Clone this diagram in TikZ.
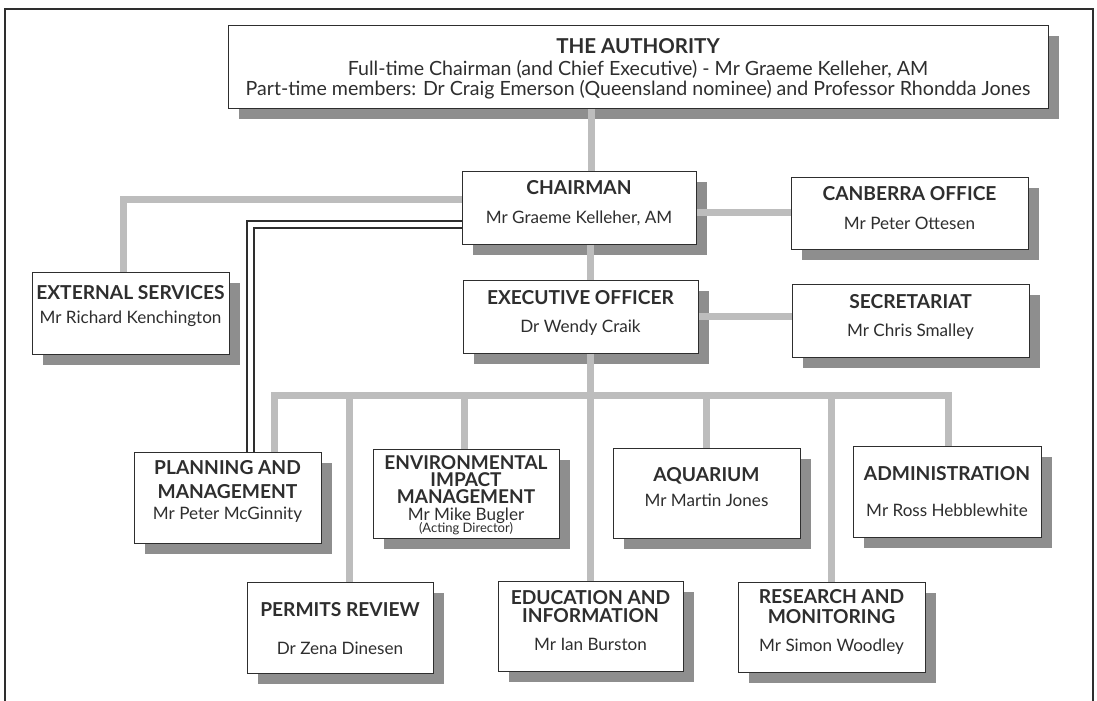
\documentclass[tikz,border=0pt]{standalone}
\usepackage{fontspec}
\setmainfont{Lato}
\usetikzlibrary{shadows}
\definecolor{conncol}{HTML}{BDBDBD}
\definecolor{shadcol}{HTML}{8E8E8E}
\definecolor{inkcol}{HTML}{2E2E2E}
\begin{document}
\begin{tikzpicture}[x=1pt,y=-1pt,
  box/.style={draw=inkcol, line width=0.9pt, fill=white, inner sep=0pt, anchor=north west,
    drop shadow={shadow xshift=11pt, shadow yshift=-11pt, fill=shadcol, opacity=1}},
  conn/.style={draw=conncol, line width=7pt},
  wire/.style={draw=inkcol, line width=1.1pt},
  ttl/.style={text=inkcol, font=\bfseries\fontsize{19.2}{21}\selectfont, inner sep=0pt, anchor=base},
  nm/.style={text=inkcol, font=\fontsize{17.1}{19}\selectfont, inner sep=0pt, anchor=base},
  bigttl/.style={text=inkcol, font=\bfseries\fontsize{20.5}{24}\selectfont, inner sep=0pt, anchor=base},
  authln/.style={text=inkcol, font=\fontsize{19.6}{21}\selectfont, inner sep=0pt, anchor=base},
  small/.style={text=inkcol, font=\fontsize{13}{14}\selectfont, inner sep=0pt, anchor=base},
  tightttl/.style={text=inkcol, font=\bfseries\fontsize{19}{17}\selectfont, inner sep=0pt, align=center},
]
\useasboundingbox (0,0) rectangle (1097,701);
% outer frame
\draw[draw=inkcol, line width=1.1pt] (5,701) -- (5,9) -- (1093,9) -- (1093,701);

% boxes
\node[box, minimum width=820pt, minimum height=83pt] (auth) at (228,25) {};
\node[box, minimum width=234pt, minimum height=73pt] (chair) at (462,171) {};
\node[box, minimum width=237pt, minimum height=72pt] (canb) at (791,177) {};
\node[box, minimum width=235pt, minimum height=73pt] (exec) at (463,280) {};
\node[box, minimum width=237pt, minimum height=73pt] (secr) at (792,284) {};
\node[box, minimum width=197pt, minimum height=82pt] (ext) at (32,272) {};
\node[box, minimum width=187pt, minimum height=91pt] (plan) at (134,452) {};
\node[box, minimum width=186pt, minimum height=89pt] (env) at (373,449) {};
\node[box, minimum width=187pt, minimum height=90pt] (aqua) at (613,448) {};
\node[box, minimum width=188pt, minimum height=91pt] (admin) at (853,446) {};
\node[box, minimum width=186pt, minimum height=91pt] (perm) at (247,582) {};
\node[box, minimum width=185pt, minimum height=90pt] (edu) at (498,581) {};
\node[box, minimum width=187pt, minimum height=90pt] (res) at (738,582) {};

% texts
\node[bigttl] (auth-t) at (638,53) {THE AUTHORITY};
\node[authln] (auth-a) at (638,75.5) {Full-time Chairman (and Chief Executive) - Mr Graeme Kelleher, AM};
\node[authln] (auth-b) at (638,95.5) {Part-time members: Dr Craig Emerson (Queensland nominee) and Professor Rhondda Jones};

\node[ttl] (chair-t) at (579,194.5) {CHAIRMAN};
\node[nm] (chair-n) at (579,223) {Mr Graeme Kelleher, AM};
\node[ttl] (canb-t) at (909.5,200.5) {CANBERRA OFFICE};
\node[nm] (canb-n) at (909.5,229) {Mr Peter Ottesen};
\node[ttl] (exec-t) at (580.5,304.5) {EXECUTIVE OFFICER};
\node[nm] (exec-n) at (580.5,332) {Dr Wendy Craik};
\node[ttl] (secr-t) at (910.5,308.5) {SECRETARIAT};
\node[nm] (secr-n) at (910.5,336) {Mr Chris Smalley};
\node[ttl] (ext-t) at (130.5,299.5) {EXTERNAL SERVICES};
\node[nm] (ext-n) at (130.5,323) {Mr Richard Kenchington};

\node[ttl] (plan-t1) at (227.5,474.5) {PLANNING AND};
\node[ttl] (plan-t2) at (227.5,498.5) {MANAGEMENT};
\node[nm] (plan-n) at (227.5,519) {Mr Peter McGinnity};
\node[tightttl] (env-t) at (466,480) {ENVIRONMENTAL\\IMPACT\\MANAGEMENT};
\node[nm] (env-n) at (466,520.5) {Mr Mike Bugler};
\node[small] (env-s) at (466,532.5) {(Acting Director)};
\node[ttl] (aqua-t) at (706.5,481.5) {AQUARIUM};
\node[nm] (aqua-n) at (706.5,506) {Mr Martin Jones};
\node[ttl] (admin-t) at (947,480.5) {ADMINISTRATION};
\node[nm] (admin-n) at (947,516) {Mr Ross Hebblewhite};
\node[ttl] (perm-t) at (340,616.5) {PERMITS REVIEW};
\node[nm] (perm-n) at (340,654) {Dr Zena Dinesen};
\node[ttl] (edu-t1) at (590.5,604.5) {EDUCATION AND};
\node[ttl] (edu-t2) at (590.5,622.5) {INFORMATION};
\node[nm] (edu-n) at (590.5,650) {Mr Ian Burston};
\node[ttl] (res-t1) at (831.5,603.5) {RESEARCH AND};
\node[ttl] (res-t2) at (831.5,623.5) {MONITORING};
\node[nm] (res-n) at (831.5,651) {Mr Simon Woodley};

% connector points
\coordinate (ac) at (591,0);
\coordinate (ce) at (123,199);
\coordinate (d1) at (247,221);
\coordinate (d2) at (254,228);
\coordinate (cc) at (0,212);
\coordinate (es) at (0,316);
\coordinate (bL) at (274,395);
\coordinate (bR) at (948,395);
\coordinate (bP) at (349,395);
\coordinate (bE) at (464,395);
\coordinate (bX) at (590,395);
\coordinate (bA) at (706,395);
\coordinate (bS) at (831,395);

% connectors
\draw[conn] (ac |- auth.south) -- (ac |- chair.north);
\draw[conn] (chair.west |- ce) -- (ce) -- (ce |- ext.north);
\draw[conn] (chair.east |- cc) -- (canb.west |- cc);
\draw[conn] (exec.east |- es) -- (secr.west |- es);
\draw[conn] (bX |- chair.south) -- (bX |- exec.north);
\draw[conn] (bX |- exec.south) -- (bX |- edu.north);
\draw[conn] (bL |- plan.north) -- (bL) -- (bR) -- (bR |- admin.north);
\draw[conn] (bP) -- (bP |- perm.north);
\draw[conn] (bE) -- (bE |- env.north);
\draw[conn] (bA) -- (bA |- aqua.north);
\draw[conn] (bS) -- (bS |- res.north);
\draw[wire] (chair.west |- d1) -- (d1) -- (d1 |- plan.north);
\draw[wire] (chair.west |- d2) -- (d2) -- (d2 |- plan.north);
\end{tikzpicture}
\end{document}
